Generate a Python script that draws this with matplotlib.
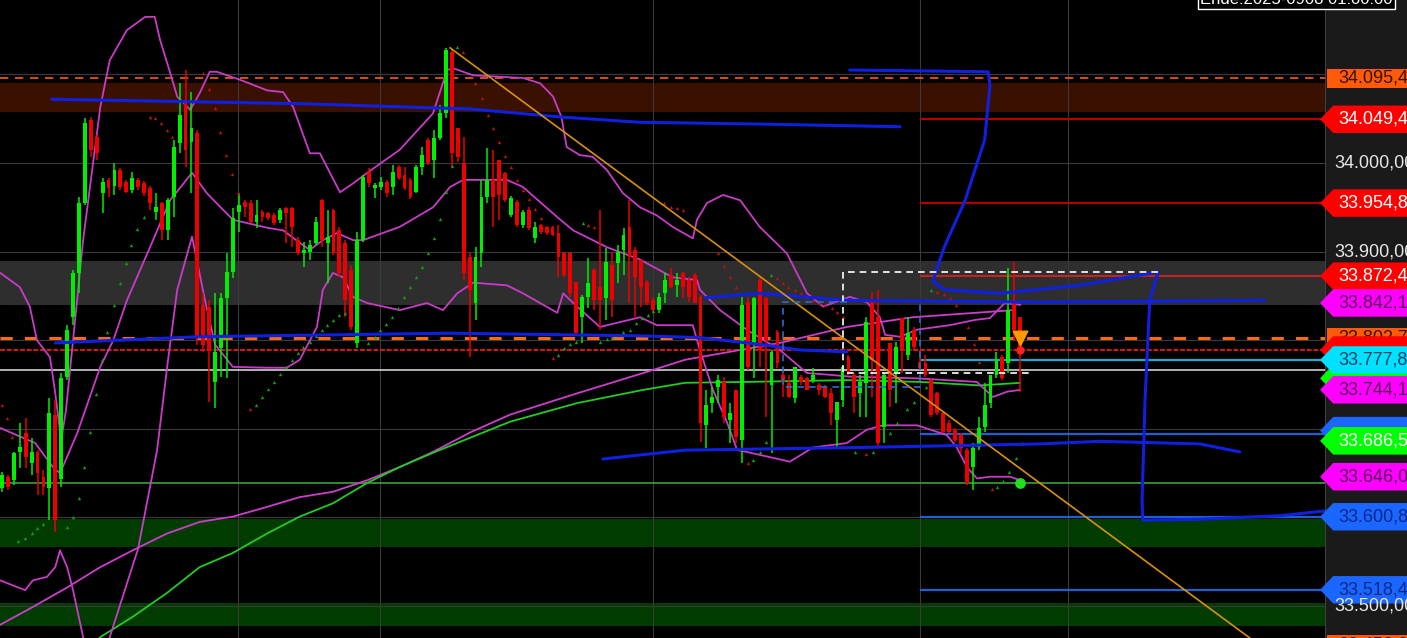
import numpy as np
import matplotlib.pyplot as plt
import matplotlib.transforms as mtransforms
from matplotlib.patches import Polygon

plt.rcParams['font.family'] = ['Liberation Sans', 'DejaVu Sans']

# candle data (one bar per entry)
opens = [33633, 33646, 33642, 33674, 33695, 33661, 33674, 33646, 33633, 33716,
         33644, 33759, 33826, 33876, 33955, 34049, 34029, 33966, 33981, 33974,
         33992, 33979, 33970, 33981, 33977, 33972, 33945, 33955, 33924, 33962,
         34023, 34071, 34024, 34034, 33840, 33838, 33753, 33791, 33848, 33877,
         33945, 33956, 33955, 33933, 33945, 33944, 33941, 33936, 33949, 33949,
         33913, 33898, 33900, 33910, 33958, 33910, 33947, 33924, 33910, 33879,
         33797, 33913, 33990, 33972, 33973, 33979, 33973, 33996, 33987, 33981,
         33967, 33996, 34026, 34003, 34028, 34056, 34125, 34040, 34000, 33894,
         33842, 33898, 33962, 33981, 34003, 33989, 33941, 33956, 33930, 33947,
         33915, 33930, 33928, 33928, 33921, 33898, 33898, 33866, 33826, 33849,
         33879, 33860, 33848, 33885, 33887, 33902, 33928, 33902, 33891, 33866,
         33845, 33834, 33853, 33874, 33862, 33876, 33868, 33874, 33849, 33704,
         33729, 33747, 33753, 33710, 33744, 33687, 33843, 33795, 33868, 33848,
         33749, 33809, 33761, 33752, 33735, 33759, 33757, 33755, 33749, 33747,
         33740, 33710, 33733, 33781, 33761, 33740, 33752, 33845, 33826, 33702,
         33797, 33763, 33825, 33783, 33812, 33775, 33774, 33755, 33740, 33718,
         33707, 33699, 33693, 33676, 33657, 33679, 33702, 33729, 33761, 33781,
         33774, 33845, 33826]
highs = [33651, 33648, 33674, 33707, 33712, 33690, 33676, 33654, 33735, 33733,
         33763, 33817, 33879, 33962, 34051, 34052, 34032, 33983, 33983, 34000,
         33994, 33981, 33990, 33983, 33980, 33974, 33966, 33956, 33961, 34026,
         34090, 34105, 34080, 34037, 33853, 33845, 33853, 33853, 33898, 33949,
         33966, 33958, 33958, 33958, 33947, 33945, 33944, 33949, 33950, 33950,
         33917, 33911, 33913, 33939, 33959, 33947, 33948, 33928, 33913, 33885,
         33922, 33987, 33994, 33977, 33984, 33981, 33998, 33998, 33996, 33983,
         33998, 34018, 34028, 34037, 34065, 34130, 34128, 34040, 34029, 33898,
         33905, 33981, 34017, 34015, 34003, 33990, 33963, 33958, 33947, 33950,
         33933, 33931, 33929, 33929, 33930, 33900, 33900, 33866, 33851, 33893,
         33882, 33947, 33904, 33900, 33907, 33927, 33958, 33905, 33891, 33868,
         33849, 33853, 33876, 33882, 33876, 33877, 33871, 33876, 33851, 33744,
         33747, 33761, 33759, 33729, 33744, 33849, 33849, 33849, 33870, 33849,
         33789, 33812, 33763, 33761, 33770, 33761, 33759, 33769, 33752, 33749,
         33746, 33730, 33772, 33783, 33763, 33761, 33826, 33854, 33857, 33763,
         33797, 33798, 33825, 33826, 33815, 33789, 33783, 33757, 33742, 33719,
         33710, 33701, 33695, 33678, 33684, 33713, 33752, 33761, 33787, 33783,
         33882, 33888, 33826]
lows = [33629, 33631, 33637, 33656, 33656, 33648, 33625, 33625, 33597, 33584,
        33634, 33755, 33817, 33853, 33953, 34007, 34003, 33944, 33962, 33964,
        33970, 33966, 33966, 33970, 33963, 33947, 33936, 33913, 33913, 33939,
        34011, 33996, 33966, 33795, 33787, 33730, 33724, 33759, 33757, 33870,
        33922, 33939, 33932, 33927, 33933, 33936, 33930, 33932, 33910, 33905,
        33896, 33883, 33891, 33907, 33905, 33865, 33896, 33871, 33826, 33812,
        33791, 33911, 33973, 33961, 33970, 33962, 33964, 33981, 33970, 33959,
        33966, 33987, 33998, 33983, 34026, 34051, 33996, 34001, 33868, 33781,
        33823, 33883, 33955, 33928, 33936, 33956, 33939, 33928, 33927, 33924,
        33910, 33920, 33919, 33918, 33871, 33871, 33849, 33806, 33797, 33836,
        33834, 33812, 33823, 33826, 33865, 33874, 33842, 33826, 33838, 33840,
        33831, 33831, 33842, 33859, 33849, 33848, 33843, 33842, 33685, 33678,
        33718, 33729, 33707, 33684, 33684, 33661, 33766, 33757, 33770, 33713,
        33673, 33769, 33736, 33735, 33729, 33749, 33744, 33752, 33738, 33735,
        33704, 33679, 33725, 33761, 33718, 33713, 33713, 33736, 33679, 33684,
        33725, 33729, 33763, 33778, 33789, 33766, 33759, 33713, 33716, 33695,
        33695, 33685, 33673, 33637, 33631, 33676, 33696, 33724, 33757, 33755,
        33763, 33800, 33742]
closes = [33648, 33634, 33673, 33679, 33668, 33674, 33650, 33634, 33718, 33597,
          33757, 33812, 33876, 33955, 34045, 34015, 34011, 33979, 33972, 33992,
          33973, 33967, 33983, 33973, 33966, 33955, 33950, 33924, 33958, 34018,
          34054, 34015, 34040, 33804, 33795, 33789, 33787, 33848, 33877, 33938,
          33953, 33950, 33933, 33941, 33939, 33938, 33932, 33947, 33944, 33928,
          33898, 33902, 33907, 33933, 33913, 33917, 33898, 33876, 33845, 33815,
          33913, 33984, 33977, 33975, 33979, 33966, 33990, 33983, 33972, 33962,
          33996, 34009, 34000, 34028, 34056, 34128, 34011, 34007, 33876, 33857,
          33894, 33962, 33981, 33962, 33964, 33958, 33961, 33930, 33945, 33927,
          33928, 33922, 33921, 33919, 33894, 33874, 33853, 33808, 33849, 33865,
          33845, 33845, 33888, 33845, 33900, 33919, 33894, 33871, 33860, 33842,
          33834, 33849, 33868, 33860, 33868, 33860, 33849, 33842, 33707, 33727,
          33736, 33755, 33713, 33718, 33691, 33840, 33770, 33848, 33789, 33800,
          33787, 33774, 33753, 33736, 33770, 33753, 33744, 33761, 33744, 33736,
          33718, 33730, 33770, 33763, 33736, 33753, 33821, 33778, 33684, 33761,
          33744, 33792, 33789, 33808, 33792, 33769, 33761, 33716, 33718, 33696,
          33696, 33687, 33678, 33639, 33678, 33701, 33727, 33761, 33778, 33757,
          33834, 33812, 33789]

# bollinger bands (bar, price)
upper_x = [-0.3, 3.0, 4.7, 5.9, 8.1, 9.0, 10.0, 10.8, 12.0, 13.7, 16.6, 18.2, 21.1, 24.2, 25.8,
           26.7, 28.4, 29.6, 31.8, 33.4, 35.1, 36.3, 40.2, 44.8, 47.5, 49.2, 52.0, 53.7, 57.1,
           59.3, 61.7, 67.2, 72.8, 75.2, 76.2, 79.6, 88.0, 90.9, 93.1, 94.5, 95.4, 97.6, 99.8,
           102.2, 104.9, 107.8, 110.6, 113.3, 116.7, 117.4, 119.1, 121.8, 124.7, 128.0, 132.6,
           136.0, 138.7, 143.2, 146.1, 148.3, 149.2, 151.7, 154.6, 160.1, 164.4, 166.9, 169.4, 172.0]
upper_y = [33876, 33860, 33838, 33800, 33781, 33740, 33687, 33721, 33800, 33913, 34063, 34116, 34150,
           34165, 34165, 34139, 34102, 34075, 34060, 34079, 34103, 34103, 34094, 34082, 34080, 34063,
           34011, 34011, 33967, 33977, 33989, 34015, 34056, 34105, 34107, 34099, 34096, 34090, 34075,
           34052, 34018, 34009, 34007, 33992, 33966, 33950, 33941, 33928, 33915, 33936, 33955, 33964,
           33958, 33928, 33898, 33853, 33838, 33849, 33843, 33826, 33806, 33804, 33812, 33817, 33823,
           33825, 33842, 33840]
middle_x = [-0.3, 5.6, 8.6, 9.8, 12.7, 16.6, 18.8, 21.1, 25.0, 28.4, 32.1, 34.6, 39.0, 44.8, 47.5,
            50.3, 52.0, 54.2, 56.6, 59.3, 61.0, 67.2, 72.8, 75.7, 77.9, 85.3, 88.0, 93.8, 96.5,
            102.2, 107.8, 113.3, 117.4, 117.9, 121.3, 125.8, 131.4, 136.0, 139.9, 143.2, 154.6,
            164.7, 167.4, 169.8, 172.0]
middle_y = [33701, 33684, 33657, 33650, 33695, 33770, 33800, 33845, 33905, 33958, 33989, 33966,
            33936, 33927, 33924, 33910, 33902, 33913, 33921, 33913, 33913, 33928, 33950, 33973,
            33981, 33981, 33973, 33939, 33924, 33905, 33891, 33871, 33868, 33857, 33834, 33812,
            33789, 33763, 33761, 33759, 33757, 33753, 33736, 33742, 33744]
lower_x = [-0.3, 3.9, 5.2, 7.6, 9.0, 9.8, 11.0, 12.0, 13.7, 15.7, 18.2, 23.0, 26.2, 27.9, 29.6,
           32.1, 34.3, 36.0, 39.0, 44.8, 48.1, 50.3, 53.2, 54.2, 55.9, 57.6, 59.3, 61.7, 67.2,
           71.8, 74.5, 76.9, 79.6, 85.3, 88.0, 93.8, 94.8, 96.5, 101.0, 107.8, 110.6, 116.7,
           117.9, 120.1, 122.5, 124.2, 125.8, 133.1, 137.0, 142.7, 146.1, 148.8, 154.6, 159.6,
           161.3, 163.0, 164.7, 166.9, 170.3, 172.0]
lower_y = [33529, 33518, 33529, 33533, 33544, 33563, 33544, 33518, 33465, 33394, 33465, 33565,
           33676, 33770, 33857, 33917, 33845, 33795, 33770, 33769, 33769, 33778, 33815, 33857,
           33876, 33871, 33849, 33842, 33834, 33842, 33834, 33853, 33865, 33862, 33853, 33831,
           33853, 33842, 33815, 33826, 33817, 33817, 33789, 33744, 33707, 33676, 33674, 33663,
           33679, 33684, 33699, 33704, 33704, 33693, 33679, 33657, 33644, 33646, 33646, 33642]

# slow moving averages
ma_pink_x = [-0.3, 5.2, 11.0, 16.6, 22.1, 27.9, 33.4, 39.0, 44.8, 50.3, 55.9, 61.7, 67.2, 72.8,
             79.1, 85.8, 97.1, 108.3, 115.4, 131.4, 142.7, 153.9, 170.8]
ma_pink_y = [33479, 33499, 33521, 33544, 33563, 33582, 33595, 33601, 33612, 33623, 33629, 33642,
             33657, 33674, 33696, 33716, 33740, 33763, 33778, 33797, 33815, 33826, 33834]
ma_green_x = [13.0, 16.6, 22.1, 27.9, 33.4, 39.0, 44.8, 50.3, 55.9, 61.7, 67.2, 72.8, 79.1, 85.8,
              97.1, 108.3, 115.4, 125.8, 142.7, 155.1, 165.2, 172.0]
ma_green_y = [33435, 33465, 33488, 33515, 33544, 33560, 33582, 33601, 33616, 33639, 33657, 33673,
              33690, 33708, 33729, 33744, 33752, 33753, 33755, 33753, 33749, 33752]

# parabolic sar dots
sar_up_x = [2.7, 3.9, 5.1, 5.9, 6.9, 11.0, 12.0, 13.0, 13.9, 14.9, 15.9, 16.9, 17.7, 18.9, 19.9,
            20.9, 21.8, 22.8, 24.0, 42.9, 43.9, 44.9, 45.9, 47.0, 48.0, 49.0, 50.0, 50.8, 52.0,
            53.0, 54.1, 54.9, 55.9, 56.9, 57.9, 61.8, 63.0, 63.9, 64.9, 65.9, 66.9, 67.9, 68.9,
            69.9, 70.9, 72.0, 73.0, 74.0, 75.0, 76.0, 76.9, 93.9, 94.9, 95.9, 97.0, 98.1, 101.0,
            102.2, 103.0, 104.1, 104.9, 106.1, 107.1, 108.1, 109.1, 110.0, 126.9, 128.0, 129.1,
            129.9, 144.1, 147.1, 150.0, 151.2, 152.9, 154.1, 156.1, 156.9, 168.1, 169.1, 170.1,
            171.3, 172.3]
sar_up_y = [33574, 33577, 33582, 33588, 33593, 33589, 33601, 33622, 33657, 33696, 33739, 33778,
            33809, 33840, 33865, 33887, 33907, 33926, 33939, 33727, 33736, 33745, 33753, 33762,
            33770, 33778, 33786, 33792, 33798, 33805, 33812, 33817, 33823, 33828, 33831, 33797,
            33804, 33812, 33818, 33826, 33836, 33849, 33860, 33871, 33883, 33898, 33915, 33937,
            33967, 33997, 34131, 33783, 33791, 33796, 33798, 33932, 33798, 33801, 33804, 33806,
            33809, 33812, 33819, 33825, 33828, 33833, 33665, 33674, 33685, 33874, 33674, 33674,
            33695, 33707, 33722, 33730, 33747, 33857, 33634, 33641, 33651, 33667, 33684]
sar_dn_x = [0.0, 0.8, 1.7, 25.0, 25.8, 26.9, 27.9, 28.7, 34.0, 35.0, 36.0, 36.8, 37.8, 38.9, 39.9,
            41.9, 77.9, 79.9, 81.1, 82.1, 82.9, 84.0, 85.0, 86.0, 87.0, 88.0, 89.0, 90.0, 91.0,
            93.1, 99.0, 100.0, 111.8, 113.0, 114.0, 115.0, 121.0, 122.0, 123.0, 124.0, 126.0,
            130.9, 131.9, 132.8, 134.0, 135.0, 136.0, 137.0, 138.0, 139.0, 140.2, 141.0, 142.1,
            145.9, 158.0, 159.1, 160.1, 161.1, 163.2, 164.2, 165.0, 167.2]
sar_dn_y = [33727, 33712, 33691, 34052, 34051, 34045, 34037, 34029, 34102, 34084, 34062, 34035,
            34009, 33988, 33966, 33722, 34125, 34090, 34073, 34054, 34040, 34024, 34008, 33996,
            33981, 33970, 33959, 33948, 33938, 33780, 33930, 33928, 33955, 33950, 33949, 33947,
            33898, 33884, 33871, 33860, 33661, 33870, 33865, 33860, 33857, 33853, 33849, 33845,
            33842, 33840, 33836, 33832, 33826, 33672, 33854, 33852, 33848, 33840, 33815, 33796,
            33775, 33632]

# hand drawn trend lines
blue_a_x = [8.4, 50.3, 79.1, 94.3, 107.8, 128.0, 151.7]
blue_a_y = [34072, 34067, 34061, 34052, 34046, 34044, 34041]
blue_b_x = [143.2, 155.1, 166.6, 166.9, 166.0, 162.7, 159.3, 157.8, 157.3, 159.3, 168.6, 182.1, 195.3,
            193.9, 193.1, 192.6, 192.7, 202.4, 215.9, 224.3]
blue_b_y = [34105, 34104, 34103, 34088, 34026, 33958, 33907, 33879, 33866, 33857, 33853, 33862, 33877,
            33845, 33733, 33620, 33597, 33598, 33602, 33608]
blue_d_x = [118.8, 128.0, 142.7, 175.3, 213.3]
blue_d_y = [33848, 33853, 33845, 33843, 33845]
blue_e_x = [9.0, 33.4, 75.7, 107.8, 117.9, 128.5, 134.8, 142.7]
blue_e_y = [33797, 33804, 33808, 33805, 33803, 33795, 33789, 33787]
blue_f_x = [101.5, 115.4, 144.9, 175.3, 185.5, 202.4, 209.1]
blue_f_y = [33666, 33676, 33679, 33683, 33686, 33683, 33674]
trend_x = [75.7, 210.8]
trend_y = [34130, 33464]

# zones and levels
zone_brown = (34058, 34090)
zone_gray = (33840, 33889)
zone_green = [(33567, 33598), (33477, 33503)]
level_start = 155.1
levels_right = [(34049.4, '#b00000', 1.6), (33954.8, '#b00000', 1.6), (33872.4, '#d82020', 1.3),
                (33777.8, '#1aa8cc', 1.6), (33694.0, '#1f5fd0', 1.6), (33600.8, '#1f5fd0', 1.6),
                (33518.4, '#1f5fd0', 1.6)]
white_box_x = [195.3, 142.1, 142.1, 173.6]
white_box_y = [33877, 33877, 33763, 33763]
blue_box_x = [142.7, 131.9, 131.9, 155.1, 155.1]
blue_box_y = [33843, 33843, 33747, 33747, 33845]
day_lines = [39.9, 63.9, 110.0, 155.1, 180.1]

# price scale tags: price, text (None = covered), face, text colour, arrow
tags = [(34095.45, '34.095,45', '#ff5a0a', '#3a1200', False),
        (34049.4, '34.049,45', '#ff0000', 'white', True),
        (33954.8, '33.954,80', '#ff0000', 'white', True),
        (33872.4, '33.872,40', '#ff0000', 'white', True),
        (33842.1, '33.842,10', '#ff00ff', '#5a005a', True),
        (33802.75, '33.802,75', '#ff5a0a', '#3a1200', False),
        (33789.0, None, '#ff0000', 'white', True),
        (33757.0, None, '#00ff00', 'white', True),
        (33777.8, '33.777,80', '#00e0ff', '#004466', True),
        (33744.1, '33.744,10', '#ff00ff', '#5a005a', True),
        (33698.0, None, '#1a66ff', '#0a2a8a', True),
        (33686.5, '33.686,50', '#00ff00', 'white', True),
        (33646.0, '33.646,00', '#ff00ff', '#5a005a', True),
        (33600.8, '33.600,80', '#1a66ff', '#0a2a8a', True),
        (33518.4, '33.518,40', '#1a66ff', '#0a2a8a', True),
        (33456.0, '33.456,00', '#ff5a0a', '#3a1200', False)]
scale_ticks = [34000, 33900, 33500]
scale_labels = ['34.000,00', '33.900,00', '33.500,00']

W, H = 1407, 638
fig = plt.figure(figsize=(W / 100, H / 100), dpi=100, facecolor='black')
ax = fig.add_axes([0, 0, 1325 / W, 1])
ax_r = fig.add_axes([1325 / W, 0, 82 / W, 1])
ymin, ymax = 33464, 34184
ax.set_xlim(-0.34, 223.5)
ax.set_ylim(ymin, ymax)
ax_r.set_xlim(0, 1)
ax_r.set_ylim(ymin, ymax)
ax.set_facecolor('black')
ax_r.set_facecolor('#1a1a1a')
for a in (ax, ax_r):
    a.set_xticks([])
    a.set_yticks([])
    for s in a.spines.values():
        s.set_visible(False)
ax_r.axvline(0, color='#4a4a4a', lw=1.2)

# background zones
ax.axhspan(*zone_brown, color='#3a1000', lw=0, zorder=0)
ax.axhspan(*zone_gray, color='#2e2e2e', lw=0, zorder=0)
for z in zone_green:
    ax.axhspan(*z, color='#003c00', lw=0, zorder=0)

# grid
for p in range(33500, 34200, 100):
    ax.axhline(p, color='#3a3a3a', lw=0.8, zorder=0.5)
for d in day_lines:
    ax.axvline(d, color='#3a3a3a', lw=0.8, zorder=0.5)

# horizontal levels
ax.axhline(34095.45, color='#ff5a1a', lw=1.2, ls=(0, (5, 4)), zorder=1)
ax.axhline(33802.75, color='#ff6a10', lw=2.2, ls=(0, (4, 4)), zorder=1)
ax.axhline(33789.0, color='#ff1a1a', lw=1.2, ls=(0, (3, 1)), zorder=1)
ax.axhline(33766.0, color='#d0d0d0', lw=1.2, zorder=1)
ax.axhline(33639.0, color='#3da03d', lw=1.2, zorder=1)
for p, col, lw in levels_right:
    ax.hlines(p, level_start, 224, color=col, lw=lw, zorder=1)

# indicators
ax.plot(ma_pink_x, ma_pink_y, color='#cc3fcc', lw=1.3, zorder=2)
ax.plot(ma_green_x, ma_green_y, color='#22cc22', lw=1.3, zorder=2)
for bx, by in ((upper_x, upper_y), (middle_x, middle_y), (lower_x, lower_y)):
    ax.plot(bx, by, color='#c83cc8', lw=1.3, zorder=2)

# candles
o = np.array(opens, float)
h = np.array(highs, float)
l = np.array(lows, float)
c = np.array(closes, float)
idx = np.arange(len(o))
cols = np.where(c >= o, '#00ee00', '#ee0000')
ax.vlines(idx, l, h, colors=cols, lw=1.1, zorder=3)
ax.bar(idx, np.maximum(np.abs(c - o), 1.5), bottom=np.minimum(o, c), width=0.65,
       color=cols, lw=0, zorder=3)

ax.scatter(sar_up_x, sar_up_y, marker='^', s=6, color='#12a012', lw=0, zorder=3)
ax.scatter(sar_dn_x, sar_dn_y, marker='^', s=6, color='#c01010', lw=0, zorder=3)

# drawings
for bx, by in ((blue_a_x, blue_a_y), (blue_b_x, blue_b_y), (blue_d_x, blue_d_y),
               (blue_e_x, blue_e_y), (blue_f_x, blue_f_y)):
    ax.plot(bx, by, color='#1020e0', lw=2.2, zorder=4, solid_capstyle='round')
ax.plot(trend_x, trend_y, color='#d8900f', lw=1.2, zorder=4)
ax.plot(white_box_x, white_box_y, color='white', lw=1.2, ls=(0, (4, 3)), zorder=4)
ax.plot(blue_box_x, blue_box_y, color='#2a6ad0', lw=1.2, ls=(0, (4, 3)), zorder=4)

last = idx[-1]
ax.scatter([last], [33802], marker='v', s=110, color='#ff9a00', zorder=6)
ax.scatter([last], [33789], marker='o', s=25, color='#ff2020', zorder=6)
ax.scatter([last], [33639], marker='o', s=45, color='#20e020', zorder=6)

# price scale
tr = mtransforms.blended_transform_factory(ax_r.transAxes, ax_r.transData)
for i, (p, txt, fc, tc, arrow) in enumerate(tags):
    z = 3 + 2 * i
    if arrow:
        hh = 15.5
        pts = [(-0.06, p), (0.10, p + hh), (1.3, p + hh), (1.3, p - hh), (0.10, p - hh)]
    else:
        hh = 11.0
        pts = [(0.03, p + hh), (1.3, p + hh), (1.3, p - hh), (0.03, p - hh)]
    ax_r.add_patch(Polygon(pts, closed=True, facecolor=fc, edgecolor='none',
                           transform=tr, clip_on=False, zorder=z))
    if txt:
        ax_r.text(0.16, p, txt, color=tc, fontsize=13, va='center', ha='left',
                  transform=tr, zorder=z + 1)
for p, txt in zip(scale_ticks, scale_labels):
    ax_r.text(0.12, p, txt, color='#e6e6e6', fontsize=13, va='center', ha='left',
              transform=tr, zorder=100)

fig.text(1200 / W, 1 - 4 / H, 'Ende:2025-0908 01:00:00', color='white', fontsize=12,
         va='baseline', ha='left',
         bbox=dict(facecolor='black', edgecolor='white', lw=1, pad=1.5))

plt.savefig('out.png', dpi=100, facecolor='black')
